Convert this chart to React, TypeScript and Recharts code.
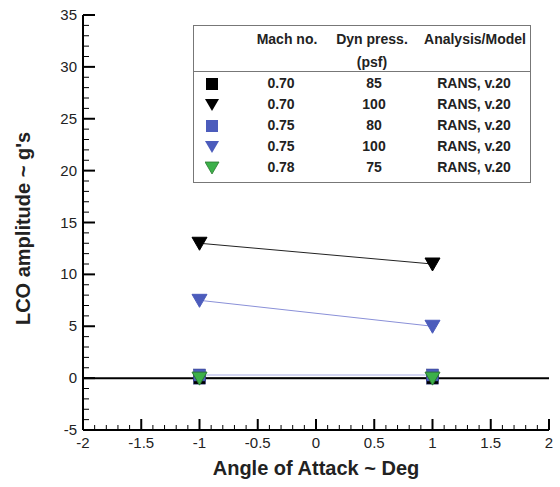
import React from 'react';
import { ScatterChart, Scatter, XAxis, YAxis, ReferenceLine, Legend, Label } from 'recharts';

// angle of attack (deg) for every case
const aoa = [-1, 1];

// LCO amplitude (g's) per case
const blackSquare = [0, 0];
const blackTri = [13, 11];
const blueSquare = [0.3, 0.3];
const blueTri = [7.5, 5];
const greenTri = [0, 0];

// legend table
const machNo = ['0.70', '0.70', '0.75', '0.75', '0.78'];
const dynPress = ['85', '100', '80', '100', '75'];
const model = ['RANS, v.20', 'RANS, v.20', 'RANS, v.20', 'RANS, v.20', 'RANS, v.20'];

// tick labels
const xMajor = [-2, -1.5, -1, -0.5, 0, 0.5, 1, 1.5, 2];
const yMajor = [-5, 0, 5, 10, 15, 20, 25, 30, 35];

const xTicks = Array.from({ length: 41 }, (_, i) => Math.round((-2 + i * 0.1) * 10) / 10);
const yTicks = Array.from({ length: 41 }, (_, i) => -5 + i);

const FONT = 'Liberation Sans, Arial, sans-serif';
const BLUE = '#4c5cbc';
const GREEN = '#3cb04a';

const toPts = (ys: number[]) => aoa.map((x, i) => ({ x, y: ys[i] }));

const triDown = (fill: string, stroke?: string) => (p: any) => (
  <path
    d={`M${p.cx - 7.5},${p.cy - 6} L${p.cx + 7.5},${p.cy - 6} L${p.cx},${p.cy + 7} Z`}
    fill={fill}
    stroke={stroke ?? fill}
    strokeWidth={1}
  />
);

const square = (fill: string) => (p: any) => (
  <rect x={p.cx - 6} y={p.cy - 6} width={12} height={12} fill={fill} stroke="#2a3680" strokeWidth={0.5} />
);

const isMajorX = (v: number) => xMajor.some((m) => Math.abs(m - v) < 1e-6);
const isMajorY = (v: number) => yMajor.includes(v);

const TICK_GAP = 6;

const XTick = (p: any) => {
  const v = p.payload.value;
  const axisY = p.y - TICK_GAP;
  const major = isMajorX(v);
  return (
    <g>
      <line x1={p.x} x2={p.x} y1={axisY} y2={axisY - (major ? 11 : 5)} stroke="#000" strokeWidth={major ? 2 : 1} />
      {major && (
        <text x={p.x} y={p.y + 12} textAnchor="middle" fontFamily={FONT} fontSize={15} fill="#222">
          {v}
        </text>
      )}
    </g>
  );
};

const YTick = (p: any) => {
  const v = p.payload.value;
  const axisX = p.x + TICK_GAP;
  const major = isMajorY(v);
  return (
    <g>
      <line x1={axisX} x2={axisX + (major ? 12 : 6)} y1={p.y} y2={p.y} stroke="#000" strokeWidth={major ? 2 : 1} />
      {major && (
        <text x={p.x} y={p.y + 5} textAnchor="end" fontFamily={FONT} fontSize={15} fill="#222">
          {v}
        </text>
      )}
    </g>
  );
};

const legendSymbols = [
  <rect x={1} y={1} width={12} height={12} fill="#000" />,
  <path d="M0,1 L14,1 L7,13 Z" fill="#000" />,
  <rect x={1} y={1} width={12} height={12} fill={BLUE} />,
  <path d="M0,1 L14,1 L7,13 Z" fill={BLUE} />,
  <path d="M0,1 L14,1 L7,13 Z" fill={GREEN} stroke="#2a7a30" strokeWidth={0.8} />,
];

const cell = (left: number, top: number, text: string) => (
  <div
    style={{
      position: 'absolute',
      left: left - 60,
      top: top - 8,
      width: 120,
      textAlign: 'center',
      fontFamily: FONT,
      fontWeight: 'bold',
      fontSize: 14,
      color: '#222',
      lineHeight: '16px',
      whiteSpace: 'nowrap',
    }}
  >
    {text}
  </div>
);

const LegendTable = () => (
  <div
    style={{
      position: 'relative',
      width: 338,
      height: 158,
      border: '1.5px solid #777',
      background: '#fff',
      boxSizing: 'border-box',
    }}
  >
    {cell(93, 13, 'Mach no.')}
    {cell(178, 13, 'Dyn press.')}
    {cell(178, 36, '(psf)')}
    {cell(281, 13, 'Analysis/Model')}
    <div style={{ position: 'absolute', left: 0, right: 0, top: 45, borderTop: '1.5px solid #777' }} />
    {machNo.map((m, i) => {
      const top = 57 + i * 21;
      return (
        <React.Fragment key={i}>
          <svg style={{ position: 'absolute', left: 11, top: top - 6 }} width={15} height={15}>
            {legendSymbols[i]}
          </svg>
          {cell(87, top, m)}
          {cell(180, top, dynPress[i])}
          {cell(280, top, model[i])}
        </React.Fragment>
      );
    })}
  </div>
);

export default function App() {
  return (
    <div style={{ position: 'absolute', left: 0, top: 0, width: 560, height: 487, background: '#fff' }}>
      <ScatterChart width={560} height={487} margin={{ top: 15, right: 11, bottom: 0, left: 0 }}>
        <XAxis
          type="number"
          dataKey="x"
          domain={[-2, 2]}
          ticks={xTicks}
          interval={0}
          tickSize={0}
          tickMargin={TICK_GAP}
          tick={<XTick />}
          axisLine={{ stroke: '#000', strokeWidth: 2 }}
          height={57}
          allowDataOverflow
        >
          <Label
            content={(p: any) => {
              const vb = p.viewBox;
              return (
                <text x={vb.x + vb.width / 2} y={vb.y + 45} textAnchor="middle" fontFamily={FONT} fontWeight="bold" fontSize={20} fill="#222">
                  Angle of Attack ~ Deg
                </text>
              );
            }}
          />
        </XAxis>
        <YAxis
          type="number"
          dataKey="y"
          domain={[-5, 35]}
          ticks={yTicks}
          interval={0}
          tickSize={0}
          tickMargin={TICK_GAP}
          tick={<YTick />}
          axisLine={{ stroke: '#000', strokeWidth: 2 }}
          width={83}
          allowDataOverflow
        >
          <Label
            content={(p: any) => {
              const vb = p.viewBox;
              const cx = vb.x + 30;
              const cy = vb.y + vb.height / 2 + 6;
              return (
                <text x={cx} y={cy} transform={`rotate(-90 ${cx} ${cy})`} textAnchor="middle" fontFamily={FONT} fontWeight="bold" fontSize={20} fill="#222">
                  LCO amplitude ~ g's
                </text>
              );
            }}
          />
        </YAxis>
        <ReferenceLine y={0} stroke="#000" strokeWidth={2} />
        <Scatter data={toPts(blackSquare)} shape={square('#000')} line={{ stroke: '#000', strokeWidth: 1 }} isAnimationActive={false} />
        <Scatter data={toPts(blackTri)} shape={triDown('#000')} line={{ stroke: '#222', strokeWidth: 1 }} isAnimationActive={false} />
        <Scatter data={toPts(blueSquare)} shape={square(BLUE)} line={{ stroke: '#a8aee6', strokeWidth: 1.2 }} isAnimationActive={false} />
        <Scatter data={toPts(blueTri)} shape={triDown(BLUE)} line={{ stroke: '#8a90d8', strokeWidth: 1 }} isAnimationActive={false} />
        <Scatter data={toPts(greenTri)} shape={triDown(GREEN, '#2a7a30')} isAnimationActive={false} />
        <Legend
          layout="horizontal"
          verticalAlign="middle"
          content={() => <LegendTable />}
          wrapperStyle={{ position: 'absolute', left: 193, top: 25, width: 338, height: 158 }}
        />
      </ScatterChart>
    </div>
  );
}
